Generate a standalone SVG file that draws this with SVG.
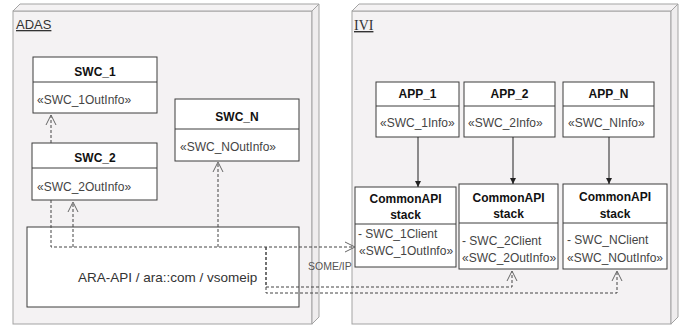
<svg xmlns="http://www.w3.org/2000/svg" width="681" height="326" viewBox="0 0 681 326">
  <style>
    .pkg { fill: #f4f2f3; stroke: #a3a3a3; stroke-width: 1; }
    .pkgside { fill: #efedee; stroke: #a3a3a3; stroke-width: 1; }
    .box { fill: #ffffff; stroke: #3c3c3c; stroke-width: 1; }
    .div { stroke: #3c3c3c; stroke-width: 1; }
    .hd { font-family: "Liberation Sans", Arial, sans-serif; font-size: 12px; font-weight: bold; fill: #111; text-anchor: middle; }
    .bd { font-family: "Liberation Sans", Arial, sans-serif; font-size: 12px; fill: #444; }
    .ttl { font-family: "Liberation Sans", Arial, sans-serif; font-size: 13px; fill: #333; text-decoration: underline; }
    .ttls { font-family: "Liberation Serif", "Times New Roman", serif; font-size: 14px; fill: #333; text-decoration: underline; }
    .dash { fill: none; stroke: #444; stroke-width: 1; stroke-dasharray: 3 2; }
    .solid { fill: none; stroke: #222; stroke-width: 1; }
    .lbl { font-family: "Liberation Sans", Arial, sans-serif; font-size: 10.5px; fill: #555; }
  </style>
  <defs>
    <marker id="open" markerUnits="userSpaceOnUse" viewBox="-1 -7 13 14" refX="10" refY="0" markerWidth="13" markerHeight="14" orient="auto">
      <path d="M0,-5 L10,0 L0,5" fill="none" stroke="#666" stroke-width="1"/>
    </marker>
    <marker id="fill" markerUnits="userSpaceOnUse" viewBox="0 -4 7 8" refX="6" refY="0" markerWidth="7" markerHeight="8" orient="auto">
      <path d="M0,-3 L6,0 L0,3 Z" fill="#222"/>
    </marker>
  </defs>

  <!-- ADAS node (3D box) -->
  <g id="adas">
    <rect class="pkg" x="13" y="11" width="299" height="313"/>
    <polygon class="pkg" points="13,11 20,4 319,4 312,11"/>
    <polygon class="pkgside" points="312,11 319,4 319,317 312,324"/>
    <text class="ttl" x="16" y="29">ADAS</text>
  </g>

  <!-- IVI node (3D box) -->
  <g id="ivi">
    <rect class="pkg" x="352" y="11" width="319" height="313"/>
    <polygon class="pkg" points="352,11 359,4 678,4 671,11"/>
    <polygon class="pkgside" points="671,11 678,4 678,317 671,324"/>
    <text class="ttls" x="354" y="30">IVI</text>
  </g>

  <g id="swc1">
    <rect class="box" x="33" y="57" width="124" height="56"/>
    <line class="div" x1="33" y1="82" x2="157" y2="82"/>
    <text class="hd" x="95" y="76">SWC_1</text>
    <text class="bd" x="37" y="104">«SWC_1OutInfo»</text>
  </g>

  <g id="swc2">
    <rect class="box" x="32" y="143" width="125" height="57"/>
    <line class="div" x1="32" y1="168" x2="157" y2="168"/>
    <text class="hd" x="95" y="162">SWC_2</text>
    <text class="bd" x="37" y="191">«SWC_2OutInfo»</text>
  </g>

  <g id="swcn">
    <rect class="box" x="175" y="99" width="124" height="62"/>
    <line class="div" x1="175" y1="129" x2="299" y2="129"/>
    <text class="hd" x="237" y="121">SWC_N</text>
    <text class="bd" x="180" y="151">«SWC_NOutInfo»</text>
  </g>

  <g id="ara">
    <rect class="box" x="27" y="227" width="272" height="80"/>
    <text font-family="Liberation Sans, Arial, sans-serif" font-size="13.5" fill="#333" x="78" y="282">ARA-API / ara::com / vsomeip</text>
  </g>

  <g id="app1">
    <rect class="box" x="376" y="82" width="83" height="55"/>
    <line class="div" x1="376" y1="106" x2="459" y2="106"/>
    <text class="hd" x="417.5" y="98">APP_1</text>
    <text class="bd" x="380" y="127">«SWC_1Info»</text>
  </g>

  <g id="app2">
    <rect class="box" x="464" y="82" width="91" height="55"/>
    <line class="div" x1="464" y1="106" x2="555" y2="106"/>
    <text class="hd" x="509.5" y="98">APP_2</text>
    <text class="bd" x="468" y="127">«SWC_2Info»</text>
  </g>

  <g id="appn">
    <rect class="box" x="563" y="82" width="91" height="55"/>
    <line class="div" x1="563" y1="106" x2="654" y2="106"/>
    <text class="hd" x="608.5" y="98">APP_N</text>
    <text class="bd" x="568" y="127">«SWC_NInfo»</text>
  </g>

  <g id="capi1">
    <rect class="box" x="355" y="187" width="101" height="80"/>
    <line class="div" x1="355" y1="224" x2="456" y2="224"/>
    <text class="hd" x="405.5" y="203">CommonAPI</text>
    <text class="hd" x="405.5" y="219">stack</text>
    <text class="bd" x="358" y="238">- SWC_1Client</text>
    <text class="bd" x="359" y="255">«SWC_1OutInfo»</text>
  </g>

  <g id="capi2">
    <rect class="box" x="459" y="184" width="99" height="85"/>
    <line class="div" x1="459" y1="223" x2="558" y2="223"/>
    <text class="hd" x="508.5" y="202">CommonAPI</text>
    <text class="hd" x="508.5" y="218">stack</text>
    <text class="bd" x="462" y="245">- SWC_2Client</text>
    <text class="bd" x="462" y="262">«SWC_2OutInfo»</text>
  </g>

  <g id="capin">
    <rect class="box" x="563" y="184" width="104" height="85"/>
    <line class="div" x1="563" y1="223" x2="667" y2="223"/>
    <text class="hd" x="615" y="201">CommonAPI</text>
    <text class="hd" x="615" y="218">stack</text>
    <text class="bd" x="567" y="244">- SWC_NClient</text>
    <text class="bd" x="567" y="262">«SWC_NOutInfo»</text>
  </g>

  <!-- connectors -->
  <g id="connectors">
    <path class="dash" d="M51,143 L51,115" marker-end="url(#open)"/>
    <path class="dash" d="M51,200 L51,247 L355,247" marker-end="url(#open)"/>
    <path class="dash" d="M73,247 L73,202" marker-end="url(#open)"/>
    <path class="dash" d="M218,247 L218,162" marker-end="url(#open)"/>
    <path class="dash" d="M266,247 L266,287 L512,287 L512,271" marker-end="url(#open)"/>
    <path class="dash" d="M266,247 L266,293 L617,293 L617,271" marker-end="url(#open)"/>
    <text class="lbl" x="308" y="270">SOME/IP</text>
    <path class="solid" d="M418,137 L418,187" marker-end="url(#fill)"/>
    <path class="solid" d="M513,137 L513,184" marker-end="url(#fill)"/>
    <path class="solid" d="M609,137 L609,184" marker-end="url(#fill)"/>
  </g>
</svg>
